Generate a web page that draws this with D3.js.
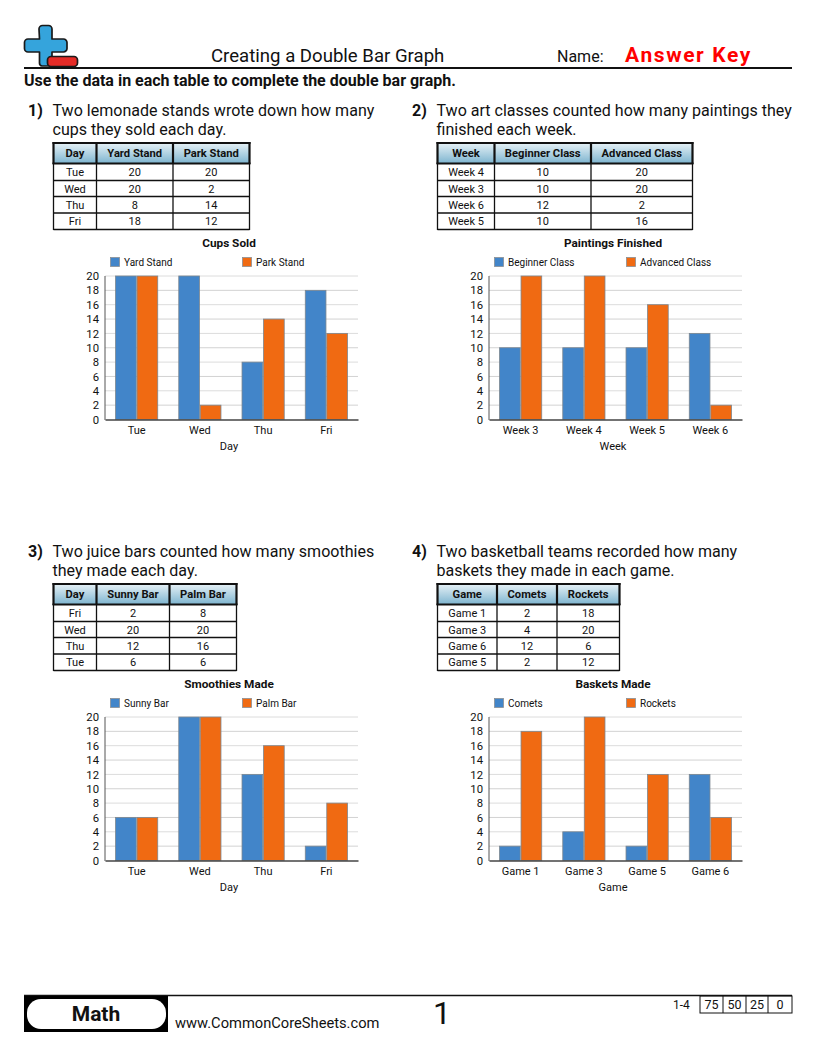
<!DOCTYPE html>
<html><head><meta charset="utf-8">
<script src="https://cdnjs.cloudflare.com/ajax/libs/d3/7.8.5/d3.min.js"></script>
<style>html,body{margin:0;padding:0;background:#fff}svg{display:block}text{font-family:Roboto,sans-serif;fill:#111}</style>
</head><body><svg id="page" width="816" height="1056"></svg>
<script>
// ---- data ----
const titles = ["Cups Sold","Paintings Finished","Smoothies Made","Baskets Made"];
const xTitles = ["Day","Week","Day","Game"];
const questions = [
 ["Two lemonade stands wrote down how many","cups they sold each day."],
 ["Two art classes counted how many paintings they","finished each week."],
 ["Two juice bars counted how many smoothies","they made each day."],
 ["Two basketball teams recorded how many","baskets they made in each game."]];
const seriesNames = [["Yard Stand","Park Stand"],["Beginner Class","Advanced Class"],["Sunny Bar","Palm Bar"],["Comets","Rockets"]];
const categories = [["Tue","Wed","Thu","Fri"],["Week 3","Week 4","Week 5","Week 6"],["Tue","Wed","Thu","Fri"],["Game 1","Game 3","Game 5","Game 6"]];
const seriesA = [[20,20,8,18],[10,10,10,12],[6,20,12,2],[2,4,2,12]];
const seriesB = [[20,2,14,12],[20,20,16,2],[6,20,16,8],[18,20,12,6]];
const tableOrder = [["Tue","Wed","Thu","Fri"],["Week 4","Week 3","Week 6","Week 5"],["Fri","Wed","Thu","Tue"],["Game 1","Game 3","Game 6","Game 5"]];
const yTicks = [0,2,4,6,8,10,12,14,16,18,20];
const scoreLabels = ["75","50","25","0"];

// ---- layout ----
const panelX = [0,384,0,384], panelY = [0,0,441,441];
const tableCols = [[53.5,96.5,173,249.5],[53.5,110.5,207,308.5],[53.5,96.5,169.5,236.5],[53.5,113,173,235.5]];
const rowEdges = [164,180.5,196.5,213,229.5];
const blue="#4285c9", orange="#f06a12";
const svg = d3.select("#page");
const defs = svg.append("defs");
const g = defs.append("linearGradient").attr("id","hdr").attr("x1",0).attr("x2",0).attr("y1",0).attr("y2",1);
g.append("stop").attr("offset",0).attr("stop-color","#e6f1f6");
g.append("stop").attr("offset",1).attr("stop-color","#7db4cf");

function T(p,x,y,s,size,o={}){
  return p.append("text").attr("x",x).attr("y",y).attr("font-size",size)
   .attr("font-weight",o.w||400).attr("text-anchor",o.a||"start")
   .style("fill",o.f||"#111").style("letter-spacing",o.ls||null).text(s);
}
function L(p,x1,y1,x2,y2,c,w){p.append("line").attr("x1",x1).attr("y1",y1).attr("x2",x2).attr("y2",y2).attr("stroke",c).attr("stroke-width",w);}

// header
const logo = svg.append("g").attr("stroke","#1a1a1a").attr("stroke-width",1.7);
logo.append("path").attr("fill","#35a4dc").attr("stroke-linejoin","round")
 .attr("d","M39 29 a3.5 3.5 0 0 1 3.5-3.5 h6 a3.5 3.5 0 0 1 3.5 3.5 v10 h11.5 a3.5 3.5 0 0 1 3.5 3.5 v6 a3.5 3.5 0 0 1-3.5 3.5 h-11.5 v11 a3 3 0 0 1-3 3 h-7 a3 3 0 0 1-2.5-3 v-11 h-11.5 a3.5 3.5 0 0 1-3.5-3.5 v-6 a3.5 3.5 0 0 1 3.5-3.5 h11.5z");
logo.append("rect").attr("x",47.5).attr("y",56.5).attr("width",30).attr("height",10).attr("rx",3.5).attr("fill","#e52b26");
L(svg,24,68,792,68,"#111",2.2);
T(svg,211,62,"Creating a Double Bar Graph",18.6);
T(svg,557,62,"Name:",16);
T(svg,625,62,"Answer Key",21,{w:700,f:"#f00",ls:"1.6px"});
T(svg,24,86,"Use the data in each table to complete the double bar graph.",16,{w:700});

// panels
titles.forEach((title,i)=>{
  const p = svg.append("g").attr("transform",`translate(${panelX[i]},${panelY[i]})`);
  T(p,28,116,(i+1)+")",16,{w:700});
  questions[i].forEach((q,k)=>T(p,52.5,116+k*19,q,16.05));

  // table
  const c = tableCols[i];
  p.append("rect").attr("x",c[0]).attr("y",143).attr("width",c[3]-c[0]).attr("height",20.5).attr("fill","url(#hdr)");
  const head=[xTitles[i],seriesNames[i][0],seriesNames[i][1]];
  head.forEach((h,j)=>T(p,(c[j]+c[j+1])/2,157,h,11.2,{w:700,a:"middle"}));
  tableOrder[i].forEach((cat,r)=>{
    const idx = categories[i].indexOf(cat);
    const y = rowEdges[r]+12;
    T(p,(c[0]+c[1])/2,y,cat,11,{a:"middle"});
    T(p,(c[1]+c[2])/2,y,seriesA[i][idx],11,{a:"middle"});
    T(p,(c[2]+c[3])/2,y,seriesB[i][idx],11,{a:"middle"});
    L(p,c[0],rowEdges[r+1],c[3],rowEdges[r+1],"#111",1.3);
  });
  c.forEach(x=>{L(p,x,142,x,164,"#111",2.2);L(p,x,164,x,230,"#111",1.3);});
  L(p,c[0]-1,143,c[3]+1,143,"#111",2.2);
  L(p,c[0]-1,163.5,c[3]+1,163.5,"#111",2.2);

  // chart
  const x = d3.scaleBand().domain(categories[i]).range([105,358]).paddingInner(0.32).paddingOuter(0.16);
  const y = d3.scaleLinear().domain([0,20]).range([419.5,276]);
  const x1 = d3.scaleBand().domain([0,1]).range([0,x.bandwidth()]);
  T(p,229,247,title,11.8,{w:700,a:"middle"});
  [0,1].forEach(s=>{
    const lx=[110,242][s];
    p.append("rect").attr("x",lx+.5).attr("y",257.5).attr("width",9).attr("height",9)
      .attr("fill",s?orange:blue).attr("stroke","#8a8f94").attr("stroke-width",.8);
    T(p,lx+14,266,seriesNames[i][s],10);
  });
  const ya = p.append("g").attr("transform","translate(105,0)")
    .call(d3.axisLeft(y).tickValues(yTicks).tickSize(0).tickPadding(6));
  ya.select(".domain").remove();
  ya.selectAll("text").attr("font-size",11.3).style("font-family","Roboto,sans-serif").style("fill","#111");
  p.append("g").selectAll("line").data(yTicks.filter(d=>d>0)).join("line")
    .attr("x1",105).attr("x2",358).attr("y1",d=>y(d)).attr("y2",d=>y(d))
    .attr("stroke",d=>d%4===2?"#d2d2d2":"#dcdcdc").attr("stroke-width",1);
  [seriesA[i],seriesB[i]].forEach((vals,s)=>{
    p.append("g").selectAll("rect").data(vals).join("rect")
     .attr("x",(d,k)=>x(categories[i][k])+x1(s)+.4)
     .attr("width",x1.bandwidth()-.8)
     .attr("y",d=>y(d))
     .attr("height",d=>y(0)-y(d))
     .attr("fill",s?orange:blue)
     .attr("stroke","#7d8790").attr("stroke-width",.8);
  });
  const xa = p.append("g").attr("transform","translate(0,419.5)")
    .call(d3.axisBottom(x).tickSize(0).tickPadding(7));
  xa.select(".domain").attr("stroke","#444").attr("stroke-width",1.3);
  xa.selectAll("text").attr("font-size",11).style("font-family","Roboto,sans-serif").style("fill","#111");
  L(p,105,276,105,420,"#555",1);
  T(p,229,450,xTitles[i],11,{a:"middle"});
});

// footer
L(svg,24,995.5,792,995.5,"#111",1.6);
svg.append("rect").attr("x",24).attr("y",996).attr("width",144).attr("height",36).attr("fill","#000");
svg.append("rect").attr("x",27).attr("y",999).attr("width",139).attr("height",30).attr("rx",14).attr("fill","#fff");
T(svg,96,1021,"Math",21,{w:700,a:"middle"});
T(svg,175,1028,"www.CommonCoreSheets.com",14.7);
T(svg,442,1024,"1",32,{a:"middle"});
T(svg,673,1009,"1-4",12);
const sx=[700,723,746,768,792];
svg.append("rect").attr("x",700).attr("y",996).attr("width",92).attr("height",17).attr("fill","none").attr("stroke","#111");
sx.slice(1,4).forEach(v=>L(svg,v,996,v,1013,"#111",1));
scoreLabels.forEach((s,j)=>T(svg,(sx[j]+sx[j+1])/2,1009,s,12.5,{a:"middle"}));
</script></body></html>
